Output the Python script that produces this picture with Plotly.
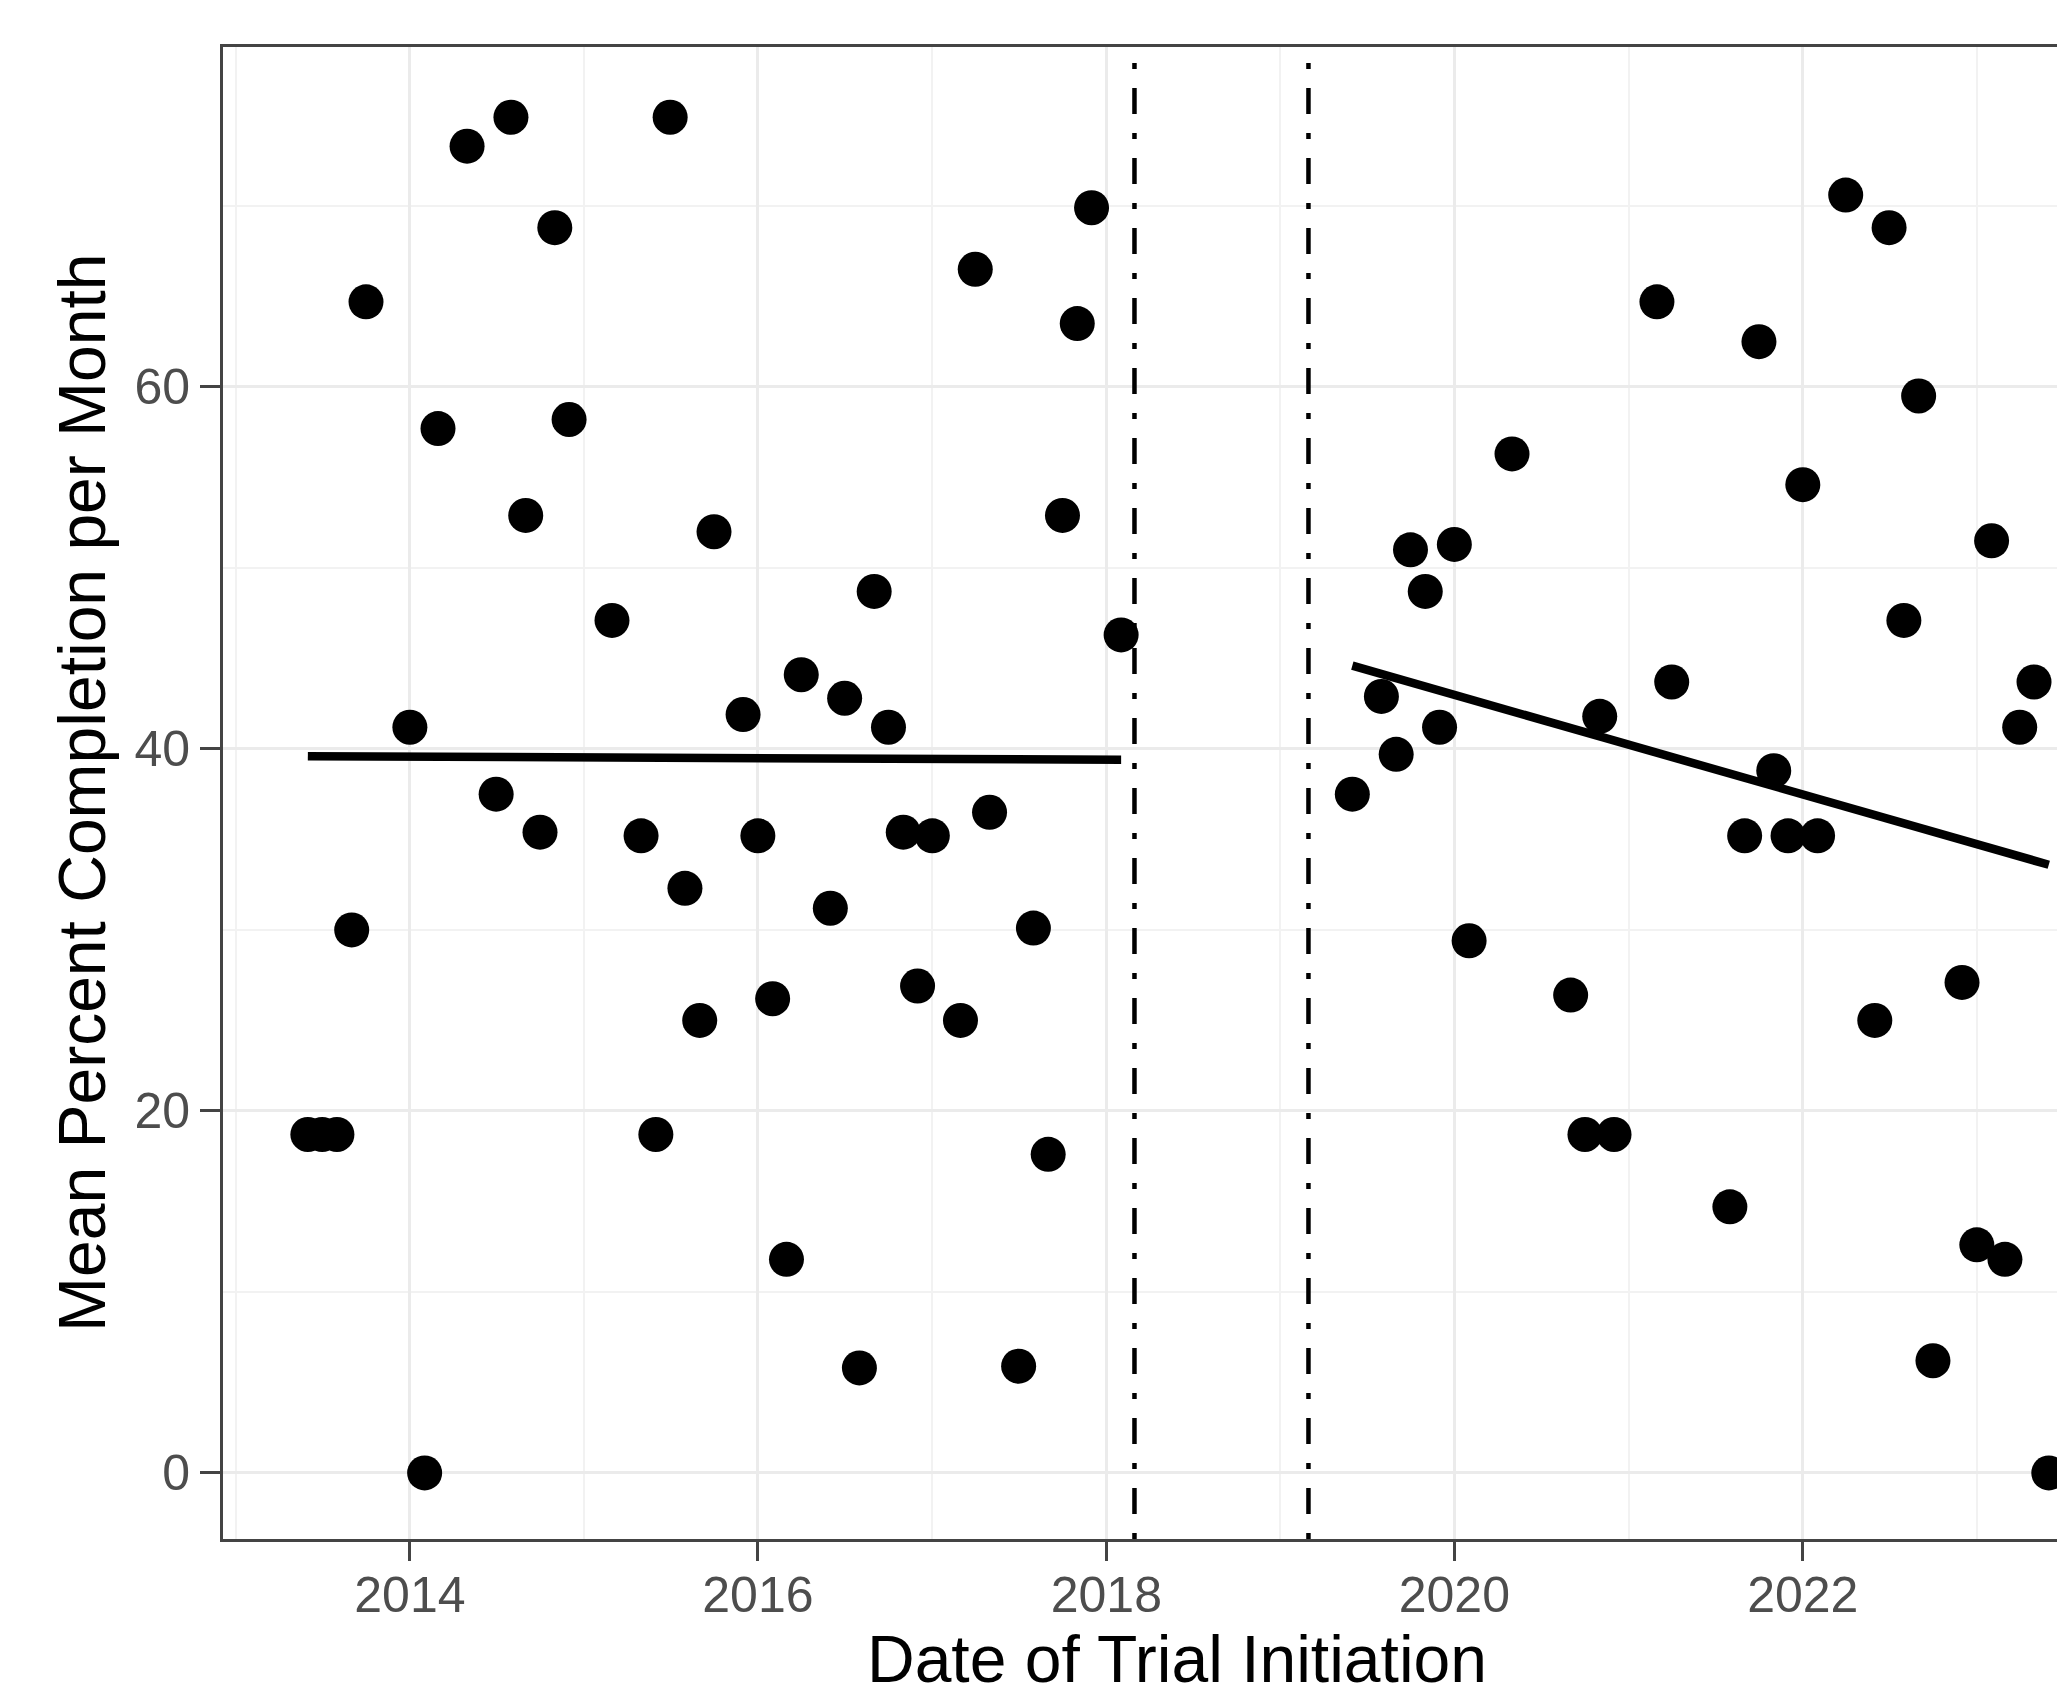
import plotly.graph_objects as go

# ---- data ----
dates_pre = ["2013-06-01", "2013-07-01", "2013-08-01", "2013-09-01", "2013-10-01",
             "2014-01-01", "2014-02-01", "2014-03-01", "2014-05-01", "2014-07-01",
             "2014-08-01", "2014-09-01", "2014-10-01", "2014-11-01", "2014-12-01",
             "2015-03-01", "2015-05-01", "2015-06-01", "2015-07-01", "2015-08-01",
             "2015-09-01", "2015-10-01", "2015-12-01", "2016-01-01", "2016-02-01",
             "2016-03-01", "2016-04-01", "2016-06-01", "2016-07-01", "2016-08-01",
             "2016-09-01", "2016-10-01", "2016-11-01", "2016-12-01", "2017-01-01",
             "2017-03-01", "2017-04-01", "2017-05-01", "2017-07-01", "2017-08-01",
             "2017-09-01", "2017-10-01", "2017-11-01", "2017-12-01", "2018-02-01"]
values_pre = [18.7, 18.7, 18.7, 30.0, 64.7, 41.2, 0.0, 57.7, 73.3, 37.5,
              74.9, 52.9, 35.4, 68.8, 58.2, 47.1, 35.2, 18.7, 74.9, 32.3,
              25.0, 52.0, 41.9, 35.2, 26.2, 11.8, 44.1, 31.2, 42.8, 5.8,
              48.7, 41.2, 35.4, 26.9, 35.2, 25.0, 66.5, 36.5, 5.9, 30.1,
              17.6, 52.9, 63.5, 69.9, 46.3]

dates_post = ["2019-06-01", "2019-08-01", "2019-09-01", "2019-10-01", "2019-11-01",
              "2019-12-01", "2020-01-01", "2020-02-01", "2020-05-01", "2020-09-01",
              "2020-10-01", "2020-11-01", "2020-12-01", "2021-03-01", "2021-04-01",
              "2021-08-01", "2021-09-01", "2021-10-01", "2021-11-01", "2021-12-01",
              "2022-01-01", "2022-02-01", "2022-04-01", "2022-06-01", "2022-07-01",
              "2022-08-01", "2022-09-01", "2022-10-01", "2022-12-01", "2023-01-01",
              "2023-02-01", "2023-03-01", "2023-04-01", "2023-05-01", "2023-06-01"]
values_post = [37.5, 42.9, 39.7, 51.0, 48.7, 41.2, 51.3, 29.4, 56.3, 26.4,
               18.7, 41.8, 18.7, 64.7, 43.7, 14.7, 35.2, 62.5, 38.8, 35.2,
               54.6, 35.2, 70.6, 25.0, 68.8, 47.1, 59.5, 6.2, 27.1, 12.6,
               51.5, 11.8, 41.2, 43.7, 0.0]

fit_pre_x = ["2013-06-01", "2018-02-01"]
fit_pre_y = [39.6, 39.4]
fit_post_x = ["2019-06-01", "2023-06-01"]
fit_post_y = [44.6, 33.6]

cutoff_dates = ["2018-03-01", "2019-03-01"]

x_ticks = ["2014-01-01", "2016-01-01", "2018-01-01", "2020-01-01", "2022-01-01"]
x_tick_labels = ["2014", "2016", "2018", "2020", "2022"]
y_ticks = [0, 20, 40, 60]

x_range = ["2012-12-05", "2023-07-05"]
y_range = [-3.65, 78.78]

# ---- figure ----
# the page body has an 8px default margin, so the figure is 8px smaller
FIG_W, FIG_H = 2057, 1680
ML, MT, MB, MR = 215, 39, 149, 0
PW = FIG_W - ML - MR
PH = FIG_H - MT - MB

fig = go.Figure()

for cd in cutoff_dates:
    fig.add_trace(go.Scatter(
        x=[cd, cd], y=[y_range[0], y_range[1]], mode="lines",
        line=dict(color="black", width=4.5, dash="6px,19px,26px,19px"),
        hoverinfo="skip", showlegend=False))

fig.add_trace(go.Scatter(x=dates_pre, y=values_pre, mode="markers",
                         marker=dict(color="black", size=35, line=dict(width=0)),
                         showlegend=False))
fig.add_trace(go.Scatter(x=dates_post, y=values_post, mode="markers",
                         marker=dict(color="black", size=35, line=dict(width=0)),
                         showlegend=False))
fig.add_trace(go.Scatter(x=fit_pre_x, y=fit_pre_y, mode="lines",
                         line=dict(color="black", width=8.5), showlegend=False))
fig.add_trace(go.Scatter(x=fit_post_x, y=fit_post_y, mode="lines",
                         line=dict(color="black", width=8.5), showlegend=False))

tick_font = dict(family="Liberation Sans, Arial, sans-serif", size=50, color="#4d4d4d")
title_font = dict(family="Liberation Sans, Arial, sans-serif", size=66, color="black")

fig.update_layout(
    width=FIG_W, height=FIG_H,
    margin=dict(l=ML, r=MR, t=MT, b=MB, pad=0),
    paper_bgcolor="white", plot_bgcolor="white",
    showlegend=False,
    xaxis=dict(
        type="date", range=x_range,
        tickmode="array", tickvals=x_ticks, ticktext=x_tick_labels,
        showgrid=True, gridcolor="#ebebeb", gridwidth=3,
        minor=dict(dtick="M12", tick0="2013-01-01", showgrid=True,
                   gridcolor="#f2f2f2", gridwidth=1.5),
        showline=True, linecolor="#444444", linewidth=3, mirror=True,
        ticks="outside", ticklen=19, tickwidth=3, tickcolor="#444444",
        tickfont=tick_font, zeroline=False, ticklabelstandoff=-9,
    ),
    yaxis=dict(
        range=y_range, tickmode="array", tickvals=y_ticks,
        showgrid=True, gridcolor="#ebebeb", gridwidth=3,
        minor=dict(dtick=10, tick0=0, showgrid=True,
                   gridcolor="#f2f2f2", gridwidth=1.5),
        showline=True, linecolor="#444444", linewidth=3, mirror=False,
        ticks="outside", ticklen=20, tickwidth=3, tickcolor="#444444",
        tickfont=tick_font, zeroline=False,
    ),
    annotations=[
        dict(text="Date of Trial Initiation", xref="paper", yref="paper",
             x=(1177 - 8 - ML) / PW, y=(FIG_H - MB - (1659 - 8)) / PH,
             xanchor="center", yanchor="middle", showarrow=False, font=title_font),
        dict(text="Mean Percent Completion per Month", xref="paper", yref="paper",
             x=(82 - 8 - ML) / PW, y=0.5, textangle=-90,
             xanchor="center", yanchor="middle", showarrow=False, font=title_font),
    ],
)

fig.write_html("out.html")
